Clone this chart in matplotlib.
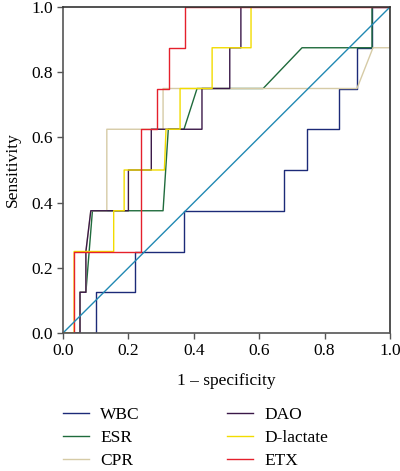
import matplotlib
matplotlib.use("Agg")
import matplotlib.pyplot as plt

# ROC curves (1 - specificity, sensitivity)
wbc_x = [0, 0.10, 0.10, 0.22, 0.22, 0.37, 0.37, 0.676, 0.676, 0.746, 0.746, 0.844, 0.844, 0.899, 0.899, 0.945, 0.945, 1.0]
wbc_y = [0, 0, 0.125, 0.125, 0.25, 0.25, 0.375, 0.375, 0.5, 0.5, 0.625, 0.625, 0.75, 0.75, 0.875, 0.875, 1, 1]

esr_x = [0, 0.052, 0.052, 0.07, 0.09, 0.306, 0.322, 0.37, 0.41, 0.612, 0.731, 0.945, 0.945, 1]
esr_y = [0, 0, 0.125, 0.125, 0.375, 0.375, 0.625, 0.625, 0.75, 0.75, 0.875, 0.875, 1, 1]

cpr_x = [0, 0.052, 0.052, 0.07, 0.07, 0.085, 0.134, 0.134, 0.306, 0.306, 0.899, 0.948, 1, 1]
cpr_y = [0, 0, 0.125, 0.125, 0.25, 0.375, 0.375, 0.625, 0.625, 0.75, 0.75, 0.875, 0.875, 1]

dao_x = [0, 0.052, 0.052, 0.07, 0.07, 0.085, 0.2, 0.2, 0.27, 0.27, 0.425, 0.425, 0.51, 0.51, 0.544, 0.544, 1]
dao_y = [0, 0, 0.125, 0.125, 0.25, 0.375, 0.375, 0.5, 0.5, 0.625, 0.625, 0.75, 0.75, 0.875, 0.875, 1, 1]

dlac_x = [0, 0.034, 0.034, 0.155, 0.155, 0.187, 0.187, 0.31, 0.315, 0.358, 0.358, 0.456, 0.456, 0.575, 0.575, 1]
dlac_y = [0, 0, 0.25, 0.25, 0.375, 0.375, 0.5, 0.5, 0.625, 0.625, 0.75, 0.75, 0.875, 0.875, 1, 1]

etx_x = [0, 0.034, 0.034, 0.24, 0.24, 0.287, 0.287, 0.324, 0.324, 0.373, 0.373, 1]
etx_y = [0, 0, 0.25, 0.25, 0.625, 0.625, 0.75, 0.75, 0.875, 0.875, 1, 1]

ref_x = [0, 1]
ref_y = [0, 1]

labels = ["WBC", "ESR", "CPR", "DAO", "D-lactate", "ETX"]
colors = ["#1c2a78", "#1f6b3c", "#d6cba6", "#3a1848", "#f2dc00", "#e5202c"]
curves = [(wbc_x, wbc_y), (esr_x, esr_y), (cpr_x, cpr_y),
          (dao_x, dao_y), (dlac_x, dlac_y), (etx_x, etx_y)]
ticks = [0.0, 0.2, 0.4, 0.6, 0.8, 1.0]

plt.rcParams["font.family"] = ["Liberation Serif", "DejaVu Serif"]
fs = 12.5

fig = plt.figure(figsize=(4, 4.71), dpi=100)
ax = fig.add_axes([63/400, 1-333/471, 327/400, 326/471])

for (x, y), c, lab in zip(curves, colors, labels):
    ax.plot(x, y, color=c, lw=1.0, label=lab)
ax.plot(ref_x, ref_y, color="#2189b3", lw=1.0)

ax.set_xlim(0, 1)
ax.set_ylim(0, 1)
ax.set_xticks(ticks)
ax.set_yticks(ticks)
ax.set_xticklabels(["%.1f" % t for t in ticks], size=fs)
ax.set_yticklabels(["%.1f" % t for t in ticks], size=fs)
ax.tick_params(direction="out", length=4, width=1, color="#555555", pad=3)
for s in ["left", "bottom"]:
    ax.spines[s].set_color("#555555")
    ax.spines[s].set_linewidth(1.2)
for s in ["top", "right"]:
    ax.spines[s].set_color("#333333")
    ax.spines[s].set_linewidth(1.2)
ax.set_xlabel("1 – specificity", size=fs, labelpad=10)
ax.set_ylabel("Sensitivity", size=fs, labelpad=8)

fig.legend(loc="upper left", bbox_to_anchor=(63/400, 1-407/471), ncol=2,
           frameon=False, fontsize=fs, handlelength=1.5, handletextpad=0.65,
           columnspacing=5.0, labelspacing=0.4, borderpad=0, borderaxespad=0)

fig.savefig("out.png", dpi=100)
